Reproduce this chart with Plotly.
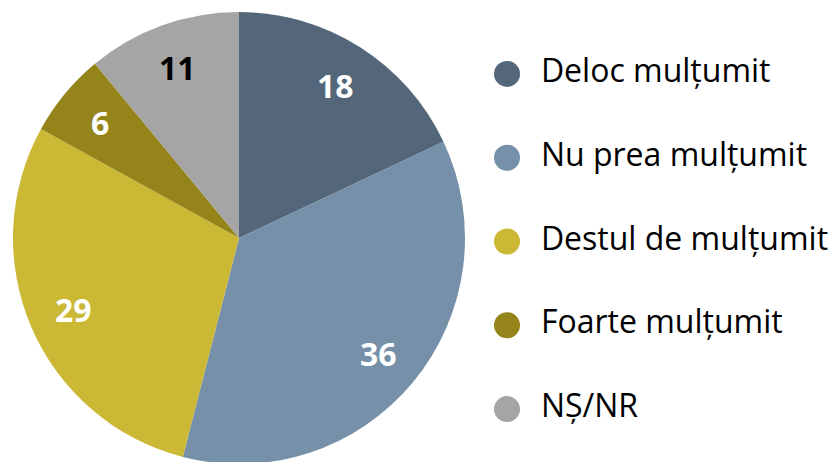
import math

import plotly.graph_objects as go

# Data
categories = ["Deloc mulțumit", "Nu prea mulțumit", "Destul de mulțumit",
              "Foarte mulțumit", "NȘ/NR"]
values = [18, 36, 29, 6, 11]
colors = ["#546679", "#7590a8", "#cbb834", "#94841a", "#a5a5a5"]
label_colors = ["white", "white", "white", "white", "black"]

W, H = 837, 462
# pie placement in figure pixels (page body adds an 8px offset)
CX, R = 231, 226
CY = 232  # measured from the bottom of the figure
LABEL_R = 0.8

fig = go.Figure()

fig.add_trace(go.Pie(
    labels=categories,
    values=values,
    sort=False,
    direction="clockwise",
    rotation=0,
    marker=dict(colors=colors, line=dict(width=0)),
    textinfo="none",
    hoverinfo="label+value",
    showlegend=False,
    domain=dict(x=[(CX - R) / W, (CX + R) / W], y=[(CY - R) / H, (CY + R) / H]),
))

# value labels at the middle angle of each slice
annotations = []
total = sum(values)
cum = 0
for v, tc in zip(values, label_colors):
    mid = (cum + v / 2) / total * 2 * math.pi
    cum += v
    px = CX + LABEL_R * R * math.sin(mid)
    py = CY + LABEL_R * R * math.cos(mid)
    annotations.append(dict(
        x=px / W, y=py / H, xref="paper", yref="paper",
        xanchor="center", yanchor="middle",
        text=f"<b>{v}</b>", showarrow=False,
        font=dict(size=32, color=tc, family="Open Sans"),
    ))

# legend drawn as large round markers with text
fig.add_trace(go.Scatter(
    x=[0] * len(categories),
    y=categories,
    mode="markers+text",
    marker=dict(size=26, color=colors),
    text=["  " + c for c in categories],
    textposition="middle right",
    textfont=dict(size=32, color="black", family="Open Sans"),
    hoverinfo="skip",
    showlegend=False,
    cliponaxis=False,
    xaxis="x", yaxis="y",
))

fig.update_layout(
    width=W, height=H,
    margin=dict(l=0, r=0, t=0, b=0),
    paper_bgcolor="white",
    plot_bgcolor="white",
    font=dict(family="Open Sans"),
    annotations=annotations,
    xaxis=dict(domain=[472 / W, 1], range=[-27, 338], visible=False, fixedrange=True),
    yaxis=dict(domain=[19 / H, 438 / H], range=[4.5, -0.5], type="category",
               categoryorder="array", categoryarray=categories,
               visible=False, fixedrange=True),
)

fig.write_html("out.html")
